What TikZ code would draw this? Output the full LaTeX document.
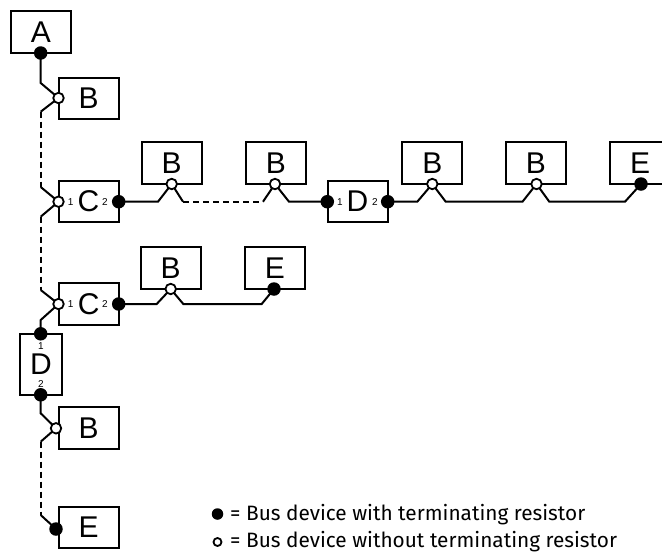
\documentclass[tikz,border=0pt]{standalone}
\usepackage{fontspec}
\setmainfont{Liberation Sans}
\newfontfamily\legendfont{Fira Sans}
\usetikzlibrary{calc,backgrounds}
\begin{document}
\begin{tikzpicture}[x=1pt,y=-1pt,
  dev/.style={draw, line width=2pt, fill=white, minimum width=60pt, minimum height=41.6pt, inner sep=0pt, font=\fontsize{30}{30}\selectfont},
  opn/.style={circle, draw, fill=white, line width=1.8pt, minimum size=10.5pt, inner sep=0pt},
  term/.style={circle, fill=black, minimum size=13.5pt, inner sep=0pt},
  num/.style={font=\fontsize{10}{10}\selectfont, inner sep=0pt},
  bus/.style={line width=2pt},
  dsh/.style={line width=2pt, dash pattern=on 6pt off 4pt},
  legtxt/.style={anchor=base west, inner sep=0pt, font=\legendfont\fontsize{20.8}{20.8}\selectfont}]
\useasboundingbox (0,0) rectangle (662,552);
% boxes
\node[dev] (A) at (41,32) {A};
\node[dev] (B1) at (88.7,98.3) {B};
\node[dev] (C1) at (88.5,201.5) {C};
\node[num] (C1n1) at (70.7,202) {1};
\node[num] (C1n2) at (105,202) {2};
\node[dev] (B2) at (171.7,163) {B};
\node[dev] (B3) at (276,163) {B};
\node[dev] (D1) at (357.5,201.5) {D};
\node[num] (D1n1) at (340,202) {1};
\node[num] (D1n2) at (375,202) {2};
\node[dev] (B4) at (432.3,163) {B};
\node[dev] (B5) at (536,163) {B};
\node[dev] (E1) at (640,163) {E};
\node[dev] (C2) at (88.7,304) {C};
\node[num] (C2n1) at (70.7,304.5) {1};
\node[num] (C2n2) at (105,304.5) {2};
\node[dev] (B6) at (170.7,268) {B};
\node[dev] (E2) at (275,268) {E};
\node[dev, minimum width=42pt, minimum height=61pt] (D2) at (41,364.3) {D};
\node[num] (D2n1) at (41,345.8) {1};
\node[num] (D2n2) at (41,384.3) {2};
\node[dev] (B7) at (88.7,427.8) {B};
\node[dev] (E3) at (88.7,527.5) {E};
% connection points
\node[term] (Ap) at (40.7,53) {};
\node[opn] (B1p) at (58.5,98) {};
\node[opn] (C1a) at (58.5,201.7) {};
\node[term] (C1b) at (118.7,201.7) {};
\node[opn] (B2p) at (171.7,184) {};
\node[opn] (B3p) at (275,184) {};
\node[term] (D1a) at (327.3,201.7) {};
\node[term] (D1b) at (387.7,201.7) {};
\node[opn] (B4p) at (432.3,184) {};
\node[opn] (B5p) at (536.5,184) {};
\node[term] (E1p) at (641,184) {};
\node[opn] (C2a) at (58.5,304) {};
\node[term] (C2b) at (118.7,304) {};
\node[opn] (B6p) at (170.7,289) {};
\node[term] (E2p) at (274,289) {};
\node[term] (D2a) at (40.7,333.8) {};
\node[term] (D2b) at (40.7,394.8) {};
\node[opn] (B7p) at (56,428.3) {};
\node[term] (E3p) at (56,529) {};
% legend
\node[term, minimum size=11.5pt] (L1) at (217.5,514) {};
\node[circle, draw, line width=1.8pt, minimum size=8pt, inner sep=0pt] (L2) at (217.5,542) {};
\node[legtxt] (T1) at (230,520.5) {= Bus device with terminating resistor};
\node[legtxt] (T2) at (230,547) {= Bus device without terminating resistor};
% connectors
\begin{pgfonlayer}{background}
% vertical bus
\draw[bus] (Ap.center) -- ++(0,30) -- (B1p.center);
\draw[bus] (B1p.center) -- ($(B1p.center)+(-17.8,13.7)$);
\draw[dsh] ($(B1p.center)+(-17.8,13.7)$) -- ($(C1a.center)+(-17.8,-14.7)$);
\draw[bus] ($(C1a.center)+(-17.8,-14.7)$) -- (C1a.center);
\draw[bus] (C1a.center) -- ($(C1a.center)+(-17.8,15)$);
\draw[dsh] ($(C1a.center)+(-17.8,15)$) -- ($(C2a.center)+(-17.8,-14)$);
\draw[bus] ($(C2a.center)+(-17.8,-14)$) -- (C2a.center);
\draw[bus] (C2a.center) -- ++(-17.8,16) -- (D2a.center);
\draw[bus] (D2b.center) -- ++(0,18.5) -- (B7p.center);
\draw[bus] (B7p.center) -- ($(B7p.center)+(-15.3,13.4)$);
\draw[dsh] ($(B7p.center)+(-15.3,13.4)$) -- ($(E3p.center)+(-15.3,-14)$);
\draw[bus] ($(E3p.center)+(-15.3,-14)$) -- (E3p.center);
% upper branch
\draw[bus] (C1b.center) -- ++(39.3,0) -- (B2p.center);
\draw[bus] (B2p.center) -- ($(B2p.center)+(11.3,17.7)$);
\draw[dsh] ($(B2p.center)+(11.3,17.7)$) -- ($(B3p.center)+(-12,17.7)$);
\draw[bus] ($(B3p.center)+(-12,17.7)$) -- (B3p.center);
\draw[bus] (B3p.center) -- ++(14,17.7) -- (D1a.center);
\draw[bus] (D1b.center) -- ++(29.6,0) -- (B4p.center);
\draw[bus] (B4p.center) -- ++(13.4,17.7) -- ($(B5p.center)+(-14,17.7)$) -- (B5p.center);
\draw[bus] (B5p.center) -- ++(12.8,17.7) -- ($(E1p.center)+(-16,17.7)$) -- (E1p.center);
% lower branch
\draw[bus] (C2b.center) -- ++(38,0) -- (B6p.center);
\draw[bus] (B6p.center) -- ++(12.6,15) -- ($(E2p.center)+(-12.3,15)$) -- (E2p.center);
\end{pgfonlayer}
\end{tikzpicture}
\end{document}
